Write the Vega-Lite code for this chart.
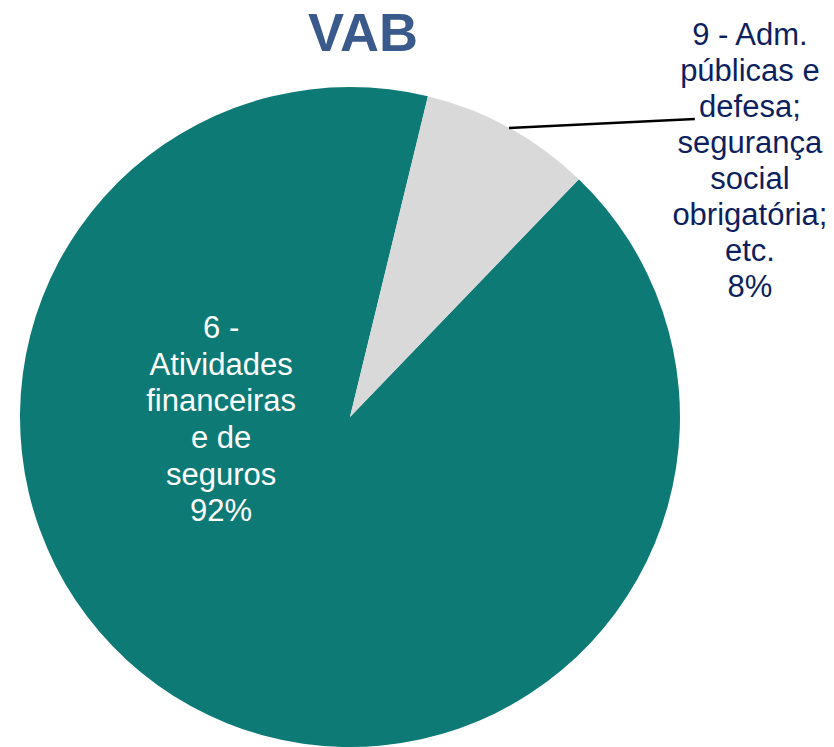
{
  "$schema": "https://vega.github.io/schema/vega-lite/v6.json",
  "autosize": "none",
  "width": 660,
  "height": 660,
  "padding": {"left": 20, "top": 87, "right": 154, "bottom": 0},
  "background": "white",
  "config": {"view": {"stroke": null}},
  "title": {
    "text": "VAB",
    "font": "Liberation Sans",
    "fontSize": 54,
    "fontWeight": "bold",
    "color": "#3A5A8B",
    "anchor": "middle",
    "frame": "group",
    "dx": 13,
    "baseline": "alphabetic",
    "offset": -85
  },
  "data": {
    "values": [
      {"setor": "6 - Atividades financeiras e de seguros", "valor": 91.6, "rotulo": "6 -\nAtividades\nfinanceiras\ne de\nseguros\n92%"},
      {"setor": "9 - Adm. públicas e defesa; seguridade social obrigatória; etc.", "valor": 8.4, "rotulo": "9 - Adm.\npúblicas e\ndefesa;\nsegurança\nsocial\nobrigatória;\netc.\n8%"}
    ]
  },
  "layer": [
    {
      "mark": {"type": "arc", "outerRadius": 330, "stroke": null},
      "encoding": {
        "theta": {"field": "valor", "type": "quantitative", "stack": true, "scale": {"range": [0.7662, 7.0494]}},
        "color": {
          "field": "setor",
          "type": "nominal",
          "scale": {
            "domain": ["6 - Atividades financeiras e de seguros", "9 - Adm. públicas e defesa; seguridade social obrigatória; etc."],
            "range": ["#0E7A76", "#D9D9D9"]
          },
          "legend": null
        }
      }
    },
    {
      "data": {"values": [{"px": 0.482, "py": 0.876}, {"px": 1.045, "py": 0.903}]},
      "mark": {"type": "line", "color": "#000000", "strokeWidth": 2.5},
      "encoding": {
        "x": {"field": "px", "type": "quantitative", "scale": {"domain": [-1, 1]}, "axis": null},
        "y": {"field": "py", "type": "quantitative", "scale": {"domain": [-1, 1]}, "axis": null}
      }
    },
    {
      "transform": [{"filter": "datum.valor > 50"}],
      "mark": {"type": "text", "radius": 330, "dx": 30, "dy": -377, "font": "Liberation Sans", "fontSize": 31, "lineHeight": 36.6, "lineBreak": "\n", "align": "center", "baseline": "middle", "color": "#FFFFFF"},
      "encoding": {
        "theta": {"field": "valor", "type": "quantitative", "stack": true},
        "text": {"field": "rotulo"}
      }
    },
    {
      "transform": [{"filter": "datum.valor < 50"}],
      "mark": {"type": "text", "radius": 330, "dx": 117, "dy": -211, "font": "Liberation Sans", "fontSize": 31, "lineHeight": 36, "lineBreak": "\n", "align": "center", "baseline": "middle", "color": "#0D1F5E"},
      "encoding": {
        "theta": {"field": "valor", "type": "quantitative", "stack": true},
        "text": {"field": "rotulo"}
      }
    }
  ]
}
